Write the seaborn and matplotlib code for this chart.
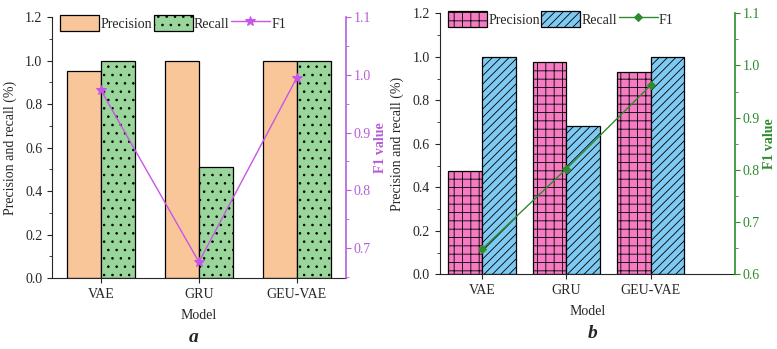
import pandas as pd
import matplotlib
matplotlib.use("Agg")
import matplotlib.pyplot as plt
from matplotlib.ticker import MultipleLocator
import seaborn as sns

# data
models = ["VAE", "GRU", "GEU-VAE"]

# panel a
prec_a = [0.95, 1.0, 1.0]
rec_a = [1.0, 0.51, 1.0]
f1_a = [0.973, 0.676, 0.995]

# panel b
prec_b = [0.476, 0.975, 0.931]
rec_b = [1.0, 0.681, 1.0]
f1_b = [0.648, 0.802, 0.962]

sns.set_style("ticks")
plt.rcParams['font.family'] = ['Liberation Serif', 'DejaVu Serif']
plt.rcParams['hatch.linewidth'] = 0.6
plt.rcParams['xtick.direction'] = 'out'
plt.rcParams['ytick.direction'] = 'out'

fig = plt.figure(figsize=(7.77, 3.49), dpi=100)
ax_a = fig.add_axes([0.067, 0.203, 0.378, 0.748])
ax_b = fig.add_axes([0.566, 0.214, 0.380, 0.748])


def draw_panel(ax, prec, rec, f1, colors, hatches, hcolors, line_color, marker,
               msize, axis_color, width, xlim, ylim2, letter, letter_pos):
    df = pd.DataFrame({
        "Model": models * 2,
        "value": prec + rec,
        "metric": ["Precision"] * 3 + ["Recall"] * 3,
    })
    sns.barplot(data=df, x="Model", y="value", hue="metric", palette=colors,
                width=width, edgecolor="black", linewidth=0.9, ax=ax,
                legend=False, saturation=1)
    for cont, h, hc in zip(ax.containers, hatches, hcolors):
        for p in cont:
            p.set_hatch(h)
            try:
                p.set_hatchcolor(hc)
            except AttributeError:
                pass
    ax.set_xlim(*xlim)
    ax.set_ylim(0, 1.2)
    ax.yaxis.set_major_locator(MultipleLocator(0.2))
    ax.yaxis.set_minor_locator(MultipleLocator(0.1))
    ax.set_ylabel("Precision and recall (%)", fontsize=10, labelpad=6)
    ax.set_xlabel("Model", fontsize=10, labelpad=6)
    ax.tick_params(labelsize=10)
    ax.spines["top"].set_visible(False)
    ax.spines["right"].set_visible(False)

    ax2 = ax.twinx()
    fdf = pd.DataFrame({"Model": models, "F1": f1})
    sns.lineplot(data=fdf, x="Model", y="F1", sort=False, color=line_color,
                 marker=marker, markersize=msize, markeredgecolor=line_color,
                 linewidth=1.0, ax=ax2)
    ax2.set_xlim(*xlim)
    ax2.set_ylim(*ylim2)
    ax2.yaxis.set_major_locator(MultipleLocator(0.1))
    ax2.yaxis.set_minor_locator(MultipleLocator(0.05))
    ax2.set_ylabel("F1 value", color=axis_color, fontsize=10,
                   fontweight="bold", labelpad=2)
    ax2.tick_params(axis="y", colors=axis_color, labelsize=10, which="both")
    ax2.tick_params(axis="y", pad=2)
    ax2.spines["right"].set_color(axis_color)
    ax2.spines["right"].set_linewidth(1.2)
    ax2.spines["top"].set_visible(False)
    ax2.spines["left"].set_visible(False)
    ax2.spines["bottom"].set_visible(False)

    handles = list(ax.containers[0][:1]) + list(ax.containers[1][:1]) + ax2.get_lines()[:1]
    ax2.legend(handles, ["Precision", "Recall", "F1"], loc="upper left",
               bbox_to_anchor=(0.0, 1.04), ncol=3, frameon=False, fontsize=10,
               handlelength=2.8, handleheight=1.4, handletextpad=0.1,
               columnspacing=0.1, borderaxespad=0.2)
    fig.text(letter_pos[0], letter_pos[1], letter, fontsize=14,
             fontweight="bold", style="italic", ha="center", va="center")


draw_panel(ax_a, prec_a, rec_a, f1_a, ["#F9C699", "#9AD69B"], ["", ".."],
           ["black", "black"], "#C955E8", "*", 7, "#B65DD8", 0.7,
           (-0.5, 2.5), (0.648, 1.1), "a", (194 / 777, 1 - 337 / 349))
draw_panel(ax_b, prec_b, rec_b, f1_b, ["#F57BC3", "#7FCAF2"], ["++", "////"],
           ["#6a2a55", "black"], "#2E8B2E", "D", 4, "#2E8B2E", 0.8,
           (-0.5, 3.0), (0.6, 1.1), "b", (593 / 777, 1 - 333 / 349))

fig.savefig("out.png", dpi=100)
